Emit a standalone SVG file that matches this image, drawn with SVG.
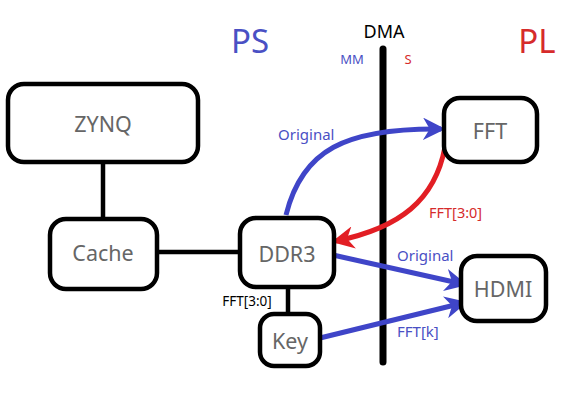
<svg xmlns="http://www.w3.org/2000/svg" width="562" height="412" viewBox="0 0 562 412">
<style>
.box{fill:#fff;stroke:#000;stroke-width:4.5}
.nt{font-family:"Noto Sans","Open Sans",sans-serif;fill:#666;font-size:21.5px;text-anchor:middle;dominant-baseline:central}
.ln{stroke:#000;stroke-width:4.5;fill:none}
.blue{stroke:#3f45c8;stroke-width:5;fill:none}
.red{stroke:#e21e24;stroke-width:5;fill:none}
.lb{font-family:"Noto Sans","Open Sans",sans-serif;fill:#4a50c4;font-size:15px}
.lr{font-family:"Noto Sans","Open Sans",sans-serif;fill:#d62b2b;font-size:14.5px}
</style>
<defs>
<marker id="ab" viewBox="0 0 10 10" refX="8" refY="5" markerWidth="4.5" markerHeight="4.5" orient="auto" markerUnits="strokeWidth">
<path d="M0,0 L10,5 L0,10 L3,5 z" fill="#3f45c8"/>
</marker>
<marker id="ar" viewBox="0 0 10 10" refX="8" refY="5" markerWidth="4.5" markerHeight="4.5" orient="auto" markerUnits="strokeWidth">
<path d="M0,0 L10,5 L0,10 L3,5 z" fill="#e21e24"/>
</marker>
</defs>
<rect width="562" height="412" fill="#fff"/>
<text x="250" y="53" font-family="Noto Sans,Open Sans,sans-serif" font-size="33" fill="#4a50c4" text-anchor="middle">PS</text>
<text x="537" y="53" font-family="Noto Sans,Open Sans,sans-serif" font-size="33" fill="#d62b2b" text-anchor="middle">PL</text>
<text x="384" y="38" font-family="Noto Sans,Open Sans,sans-serif" font-size="18" fill="#000" text-anchor="middle">DMA</text>
<text x="352" y="64" font-family="Noto Sans,Open Sans,sans-serif" font-size="13" fill="#4a50c4" text-anchor="middle">MM</text>
<text x="408" y="64" font-family="Noto Sans,Open Sans,sans-serif" font-size="13" fill="#d62b2b" text-anchor="middle">S</text>
<g id="connectors">
<line x1="383" y1="49" x2="383" y2="362" stroke="#000" stroke-width="7" stroke-linecap="round"/>
<line class="ln" x1="103" y1="162" x2="103" y2="219"/>
<line class="ln" x1="157" y1="252" x2="240" y2="252"/>
<line class="ln" x1="288" y1="287" x2="288" y2="314"/>
<path class="blue" d="M286,215 C302,150 345,128 441,129" marker-end="url(#ab)"/>
<path class="red" d="M445,147 C435,200 400,228 336,241" marker-end="url(#ar)"/>
<line class="blue" x1="333" y1="255" x2="463" y2="284" marker-end="url(#ab)"/>
<line class="blue" x1="320" y1="338" x2="463" y2="303" marker-end="url(#ab)"/>
<text class="lb" x="278" y="140">Original</text>
<text class="lr" x="429" y="218">FFT[3:0]</text>
<text class="lb" x="397" y="261">Original</text>
<text class="lb" x="397" y="337" font-size="12.5">FFT[k]</text>
<text x="247" y="306" font-family="Noto Sans,Open Sans,sans-serif" font-size="13.5" fill="#000" text-anchor="middle">FFT[3:0]</text>
</g>
<g id="zynq"><rect class="box" x="8" y="84" width="190" height="78" rx="16"/><text class="nt" x="103" y="123">ZYNQ</text></g>
<g id="cache"><rect class="box" x="50" y="219" width="107" height="70" rx="16"/><text class="nt" x="103" y="252">Cache</text></g>
<g id="ddr3"><rect class="box" x="240" y="218" width="94" height="69" rx="16"/><text class="nt" x="287" y="253">DDR3</text></g>
<g id="key"><rect class="box" x="260" y="314" width="60" height="52" rx="14"/><text class="nt" x="290" y="340">Key</text></g>
<g id="fft"><rect class="box" x="444" y="98" width="93" height="64" rx="16"/><text class="nt" x="490" y="130">FFT</text></g>
<g id="hdmi"><rect class="box" x="461" y="256" width="85" height="65" rx="16"/><text class="nt" x="503" y="288">HDMI</text></g>
</svg>
